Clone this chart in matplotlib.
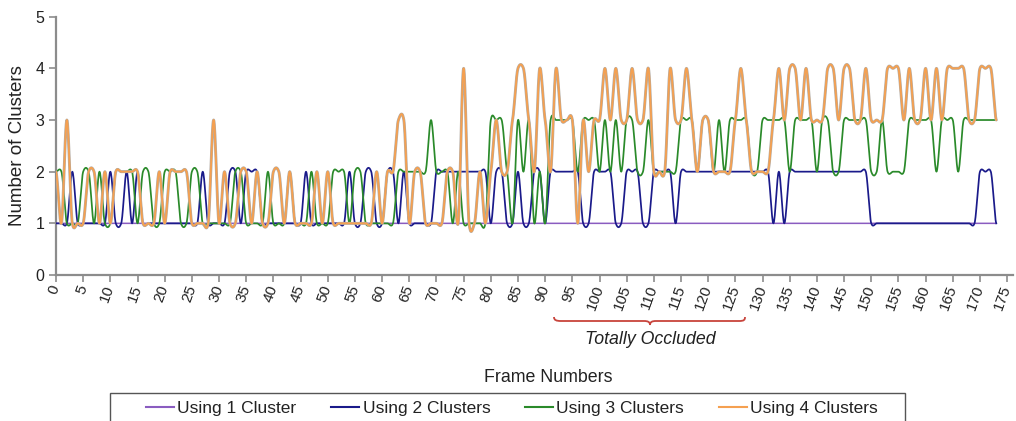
import numpy as np
import matplotlib
matplotlib.use("Agg")
import matplotlib.pyplot as plt
import matplotlib.patheffects as pe
from matplotlib.path import Path
from matplotlib.patches import PathPatch, Rectangle
from matplotlib.lines import Line2D

plt.rcParams['font.family'] = ['Liberation Sans', 'DejaVu Sans']

# ---------------- data ----------------
frames = list(range(174))

cl1 = [1, 1, 1, 1, 1, 1, 1, 1, 1, 1,  1, 1, 1, 1, 1, 1, 1, 1, 1, 1,
       1, 1, 1, 1, 1, 1, 1, 1, 1, 1,  1, 1, 1, 1, 1, 1, 1, 1, 1, 1,
       1, 1, 1, 1, 1, 1, 1, 1, 1, 1,  1, 1, 1, 1, 1, 1, 1, 1, 1, 1,
       1, 1, 1, 1, 1, 1, 1, 1, 1, 1,  1, 1, 1, 1, 1, 1, 1, 1, 1, 1,
       1, 1, 1, 1, 1, 1, 1, 1, 1, 1,  1, 1, 1, 1, 1, 1, 1, 1, 1, 1,
       1, 1, 1, 1, 1, 1, 1, 1, 1, 1,  1, 1, 1, 1, 1, 1, 1, 1, 1, 1,
       1, 1, 1, 1, 1, 1, 1, 1, 1, 1,  1, 1, 1, 1, 1, 1, 1, 1, 1, 1,
       1, 1, 1, 1, 1, 1, 1, 1, 1, 1,  1, 1, 1, 1, 1, 1, 1, 1, 1, 1,
       1, 1, 1, 1, 1, 1, 1, 1, 1, 1,  1, 1, 1, 1]

cl2 = [1, 1, 1, 2, 1, 1, 1, 1, 1, 1,  2, 1, 1, 2, 1, 2, 1, 1, 1, 1,
       1, 1, 1, 1, 1, 1, 1, 2, 1, 1,  1, 1, 2, 2, 1, 2, 2, 2, 1, 1,
       1, 1, 1, 1, 1, 1, 2, 1, 1, 1,  1, 1, 1, 1, 2, 1, 1, 2, 2, 1,
       1, 2, 2, 1, 2, 1, 1, 1, 1, 1,  2, 2, 2, 2, 2, 2, 2, 2, 2, 2,
       1, 2, 2, 1, 1, 2, 1, 1, 2, 2,  1, 2, 2, 2, 2, 2, 2, 1, 1, 2,
       2, 2, 2, 1, 1, 2, 2, 2, 1, 1,  2, 2, 2, 2, 1, 2, 2, 2, 2, 2,
       2, 2, 2, 2, 2, 2, 2, 2, 2, 2,  2, 2, 1, 2, 1, 2, 2, 2, 2, 2,
       2, 2, 2, 2, 2, 2, 2, 2, 2, 2,  1, 1, 1, 1, 1, 1, 1, 1, 1, 1,
       1, 1, 1, 1, 1, 1, 1, 1, 1, 1,  2, 2, 2, 1]

cl3 = [2, 2, 1, 1, 1, 2, 2, 1, 2, 1,  1, 2, 2, 2, 2, 1, 2, 2, 1, 1,
       2, 2, 2, 1, 1, 2, 2, 1, 1, 1,  1, 1, 1, 2, 2, 1, 1, 1, 1, 2,
       1, 1, 1, 2, 1, 1, 1, 2, 1, 1,  1, 2, 2, 2, 1, 2, 2, 1, 1, 1,
       1, 1, 1, 2, 2, 2, 2, 2, 2, 3,  2, 2, 2, 1, 2, 1, 1, 1, 1, 1,
       3, 3, 3, 2, 1, 3, 2, 3, 1, 2,  1, 3, 3, 3, 3, 3, 2, 3, 3, 3,
       2, 3, 2, 3, 2, 3, 3, 2, 2, 3,  2, 2, 2, 2, 2, 3, 3, 3, 2, 3,
       3, 2, 3, 2, 3, 3, 3, 3, 2, 2,  3, 3, 3, 3, 3, 2, 3, 3, 3, 3,
       2, 3, 3, 2, 2, 3, 3, 3, 3, 3,  2, 2, 3, 2, 2, 2, 2, 3, 3, 3,
       3, 3, 2, 3, 3, 3, 2, 3, 3, 3,  3, 3, 3, 3]

cl4 = [2, 1, 3, 1, 1, 1, 2, 2, 1, 2,  1, 2, 2, 2, 2, 2, 1, 1, 1, 2,
       1, 2, 2, 2, 2, 1, 1, 1, 1, 3,  1, 2, 1, 1, 2, 2, 1, 2, 1, 1,
       2, 2, 1, 2, 1, 1, 1, 1, 2, 1,  2, 1, 1, 1, 1, 1, 1, 1, 1, 2,
       1, 2, 2, 3, 3, 1, 2, 2, 1, 1,  1, 1, 2, 2, 1, 4, 1, 1, 2, 1,
       2, 3, 2, 2, 3, 4, 4, 3, 2, 4,  3, 2, 4, 3, 3, 3, 1, 3, 2, 3,
       3, 4, 3, 4, 3, 3, 4, 3, 3, 4,  2, 2, 2, 4, 3, 3, 4, 3, 2, 3,
       3, 2, 2, 2, 2, 3, 4, 3, 2, 2,  2, 2, 3, 4, 3, 4, 4, 3, 4, 3,
       3, 3, 4, 4, 3, 4, 4, 3, 3, 4,  3, 3, 3, 4, 4, 4, 3, 4, 3, 3,
       4, 3, 4, 3, 4, 4, 4, 4, 3, 3,  4, 4, 4, 3]

series_names = ['Using 1 Cluster', 'Using 2 Clusters', 'Using 3 Clusters', 'Using 4 Clusters']
x_ticks = list(range(0, 176, 5))
y_ticks = [0, 1, 2, 3, 4, 5]

colors = ['#8a5cc0', '#1a1a8a', '#2a8a2a', '#f5a050']


def smooth(xs, ys, n=16, c=0.6):
    """Cardinal-spline smoothing similar to a spreadsheet 'smoothed line'."""
    xs = np.asarray(xs, float)
    ys = np.asarray(ys, float)
    yp = np.concatenate([[ys[0]], ys, [ys[-1]]])
    m = c * (yp[2:] - yp[:-2]) / 2.0
    t = np.linspace(0, 1, n, endpoint=False)
    h00 = 2 * t ** 3 - 3 * t ** 2 + 1
    h10 = t ** 3 - 2 * t ** 2 + t
    h01 = -2 * t ** 3 + 3 * t ** 2
    h11 = t ** 3 - t ** 2
    ox, oy = [], []
    for i in range(len(xs) - 1):
        ox.extend(xs[i] + t * (xs[i + 1] - xs[i]))
        oy.extend(h00 * ys[i] + h10 * m[i] + h01 * ys[i + 1] + h11 * m[i + 1])
    ox.append(xs[-1])
    oy.append(ys[-1])
    return np.array(ox), np.array(oy)


W, H = 1016, 421
fig = plt.figure(figsize=(W / 100, H / 100), dpi=100)
x0px, x1px = 56, 56 + 5.435 * 176
ytop, ybot = 16.7, 275
ax = fig.add_axes([x0px / W, 1 - ybot / H, (x1px - x0px) / W, (ybot - ytop) / H])

data = [cl1, cl2, cl3, cl4]
for k, (ys, c) in enumerate(zip(data, colors)):
    sx, sy = smooth(frames, ys)
    if k == 3:
        ax.plot(sx, sy, color=c, lw=1.3, solid_capstyle='round', zorder=3 + k,
                path_effects=[pe.Stroke(linewidth=2.1, foreground='#b4aca4'), pe.Normal()])
    elif k == 0:
        ax.plot(sx, sy, color=c, lw=1.1, zorder=3 + k)
    else:
        ax.plot(sx, sy, color=c, lw=1.25, zorder=3 + k)

ax.set_xlim(0, 176)
ax.set_ylim(0, 5)
for s in ['top', 'right']:
    ax.spines[s].set_visible(False)
for s in ['left', 'bottom']:
    ax.spines[s].set_color('#8c8c8c')
    ax.spines[s].set_linewidth(1.6)
ax.set_xticks(x_ticks)
ax.set_xticklabels([str(v) for v in x_ticks], rotation=70, ha='right',
                   rotation_mode='anchor', va='center', fontsize=11)
ax.set_yticks(y_ticks)
ax.set_yticklabels([str(v) for v in y_ticks], fontsize=11.5)
ax.tick_params(axis='both', colors='#8c8c8c', labelcolor='#222222', length=5, width=1.2)
ax.tick_params(axis='x', pad=3)

fig.text(18 / W, 1 - 146 / H, 'Number of Clusters', rotation=90, ha='center', va='center',
         fontsize=13.5, color='#222222')
fig.text(548 / W, 1 - 378 / H, 'Frame Numbers', ha='center', va='center',
         fontsize=12.8, color='#222222')
fig.text(650 / W, 1 - 340 / H, 'Totally Occluded', ha='center', va='center',
         fontsize=12.8, style='italic', color='#222222')

# curly brace under the occluded frames
pts_px = [(554, 317), (554, 320), (556, 321), (561, 321), (644, 321), (648, 321), (650, 322), (650, 325),
          (650, 322), (652, 321), (656, 321), (739, 321), (744, 321), (745, 320), (745, 317)]
codes = [Path.MOVETO, Path.CURVE4, Path.CURVE4, Path.CURVE4, Path.LINETO, Path.CURVE4, Path.CURVE4, Path.CURVE4,
         Path.CURVE4, Path.CURVE4, Path.CURVE4, Path.LINETO, Path.CURVE4, Path.CURVE4, Path.CURVE4]
verts = [(px / W, 1 - py / H) for px, py in pts_px]
fig.patches.append(PathPatch(Path(verts, codes), transform=fig.transFigure, fill=False,
                             edgecolor='#c8443c', lw=1.3))

# legend box (extends past the bottom edge like the reference)
fig.patches.append(Rectangle((110 / W, 1 - 440 / H), (905 - 110) / W, (440 - 393) / H,
                             transform=fig.transFigure, fill=False, edgecolor='#555555', lw=1.0))
handles = [Line2D([], [], color=c, lw=1.5) for c in colors]
leg = fig.legend(handles, series_names, loc='center',
                 bbox_to_anchor=(512 / W, 1 - 408 / H),
                 ncol=4, fontsize=12.5, frameon=False,
                 handlelength=1.6, handletextpad=0.2, columnspacing=2.0, borderaxespad=0,
                 borderpad=0)
for t in leg.get_texts():
    t.set_color('#222222')

fig.savefig('out.png', dpi=100)
